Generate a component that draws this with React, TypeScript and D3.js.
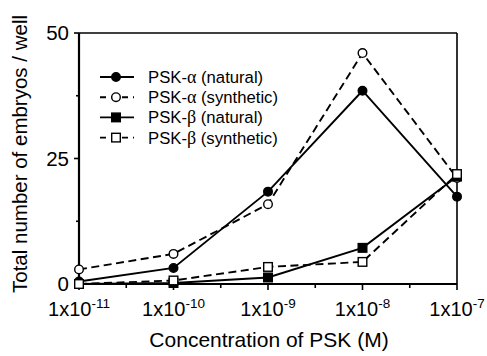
import React from "react";
import * as d3 from "d3";

const concentrations = [1e-11, 1e-10, 1e-9, 1e-8, 1e-7];
const alphaNatural = [0.5, 3.2, 18.4, 38.5, 17.4];
const alphaSynthetic = [2.9, 6.0, 15.9, 46.0, 21.1];
const betaNatural = [0, 0.2, 1.3, 7.2, 21.4];
const betaSynthetic = [0, 0.7, 3.4, 4.4, 21.9];
const yTicks = [0, 25, 50];
const yMinorTicks = [12.5, 37.5];
const xTickExponents = [-11, -10, -9, -8, -7];

const series = [
  { greek: "α", label: " (natural)", values: alphaNatural, dashed: false, marker: "circle", filled: true },
  { greek: "α", label: " (synthetic)", values: alphaSynthetic, dashed: true, marker: "circle", filled: false },
  { greek: "β", label: " (natural)", values: betaNatural, dashed: false, marker: "square", filled: true },
  { greek: "β", label: " (synthetic)", values: betaSynthetic, dashed: true, marker: "square", filled: false },
];

const W = 487, H = 356;
const L = 79, R = 457, T = 33, B = 284;
const sans = "'Liberation Sans', Arial, Helvetica, sans-serif";
const serif = "'Liberation Serif', 'Times New Roman', serif";

function Marker({ x, y, kind, filled }: { x: number; y: number; kind: string; filled: boolean }) {
  const fill = filled ? "#000" : "#fff";
  if (kind === "circle") return <circle cx={x} cy={y} r={4.3} fill={fill} stroke="#000" strokeWidth={1.4} />;
  return <rect x={x - 4.3} y={y - 4.3} width={8.6} height={8.6} fill={fill} stroke="#000" strokeWidth={1.4} />;
}

export default function App() {
  const x = d3.scaleLog().domain([1e-11, 1e-7]).range([L, R]);
  const y = d3.scaleLinear().domain([0, 50]).range([B, T]);
  const line = d3.line<[number, number]>().x((d) => x(d[0])).y((d) => y(d[1]));
  const xMinor = concentrations.slice(0, -1).map((c) => Math.sqrt(c * c * 10));

  return (
    <svg width={W} height={H} style={{ position: "absolute", left: 0, top: 0, background: "#fff" }} fontFamily={sans}>
      <rect x={0} y={0} width={W} height={H} fill="#fff" />
      {/* frame */}
      <line x1={L} y1={T} x2={R} y2={T} stroke="#000" strokeWidth={1.6} />
      <line x1={R} y1={T} x2={R} y2={B} stroke="#000" strokeWidth={1.6} />
      <line x1={L} y1={T} x2={L} y2={B} stroke="#000" strokeWidth={2.2} />
      <line x1={L} y1={B} x2={R} y2={B} stroke="#000" strokeWidth={2.2} />
      {/* y ticks */}
      {yTicks.map((t) => (
        <g key={t}>
          <line x1={L - 5} x2={L} y1={y(t)} y2={y(t)} stroke="#000" strokeWidth={1.6} />
          <text x={69} y={y(t)} dy="0.36em" textAnchor="end" fontSize={20.5}>{t}</text>
        </g>
      ))}
      {yMinorTicks.map((t) => (
        <line key={t} x1={L - 3} x2={L} y1={y(t)} y2={y(t)} stroke="#000" strokeWidth={1.6} />
      ))}
      {/* x ticks */}
      {concentrations.map((c, i) => (
        <g key={c}>
          <line x1={x(c)} x2={x(c)} y1={B} y2={B + 6} stroke="#000" strokeWidth={1.6} />
          <text x={x(c)} y={316} textAnchor="middle" fontSize={20}>
            1x10<tspan dy={-8} fontSize={13.5}>{xTickExponents[i]}</tspan>
          </text>
        </g>
      ))}
      {xMinor.map((c) => (
        <line key={c} x1={x(c)} x2={x(c)} y1={B} y2={B + 4} stroke="#000" strokeWidth={1.6} />
      ))}
      {/* axis titles */}
      <text x={269} y={347} textAnchor="middle" fontSize={21}>Concentration of PSK (M)</text>
      <text transform="translate(27,154) rotate(-90)" textAnchor="middle" fontSize={20.5}>
        Total number of embryos / well
      </text>
      {/* series lines */}
      {series.map((s, i) => (
        <path
          key={"l" + i}
          d={line(concentrations.map((c, j) => [c, s.values[j]] as [number, number])) || ""}
          fill="none"
          stroke="#000"
          strokeWidth={1.9}
          strokeDasharray={s.dashed ? "8,4.5" : undefined}
        />
      ))}
      {series.map((s, i) =>
        concentrations.map((c, j) => (
          <Marker key={"m" + i + "-" + j} x={x(c)} y={y(s.values[j])} kind={s.marker} filled={s.filled} />
        ))
      )}
      {/* legend */}
      {series.map((s, i) => {
        const ly = 77 + i * 20.2;
        return (
          <g key={"lg" + i}>
            <line x1={100} x2={134} y1={ly} y2={ly} stroke="#000" strokeWidth={1.9} strokeDasharray={s.dashed ? "6,5" : undefined} />
            <Marker x={116} y={ly} kind={s.marker} filled={s.filled} />
            <text x={148} y={ly} dy="0.36em" fontSize={16.7}>
              PSK-<tspan fontFamily={serif} fontSize={18}>{s.greek}</tspan>{s.label}
            </text>
          </g>
        );
      })}
    </svg>
  );
}
